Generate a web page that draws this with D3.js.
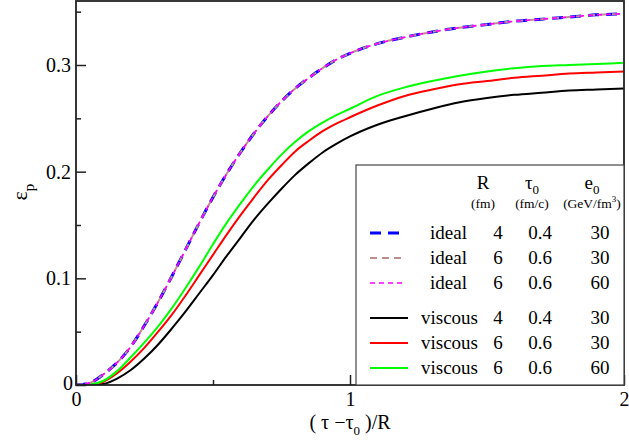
<!DOCTYPE html>
<html><head><meta charset="utf-8">
<script src="https://cdn.jsdelivr.net/npm/d3@7"></script>
<style>body{margin:0;background:#fff}svg{display:block}</style>
</head><body><svg id="c" width="629" height="442"></svg>
<script>
const xs = [0,.05,.1,.15,.2,.25,.3,.35,.4,.45,.5,.55,.6,.65,.7,.75,.8,.85,.9,.95,1.0,1.1,1.2,1.3,1.4,1.5,1.6,1.7,1.8,1.9,2.0];
const ideal = [0,.002,.010,.021,.036,.056,.078,.102,.127,.152,.176,.198,.218,.236,.252,.266,.278,.288,.297,.305,.311,.320,.326,.331,.335,.338,.341,.343,.345,.347,.348];
const viscR4 = [0,0,.001,.006,.014,.025,.038,.053,.069,.086,.103,.121,.138,.155,.170,.184,.197,.208,.218,.226,.233,.244,.252,.259,.265,.269,.272,.274,.276,.277,.278];
const viscR6e30 = [0,.0003,.003,.011,.022,.035,.050,.066,.084,.103,.122,.141,.159,.176,.192,.206,.219,.229,.238,.245,.251,.262,.271,.277,.282,.285,.288,.290,.292,.293,.294];
const viscR6e60 = [0,.0005,.004,.013,.026,.040,.055,.072,.091,.111,.132,.152,.170,.187,.202,.216,.228,.238,.246,.253,.259,.271,.279,.285,.290,.294,.297,.299,.300,.301,.302];
const xTicks = [0,1,2];
const yTicks = [0,0.1,0.2,0.3];
const legendRows = [
  {kind:"ideal", R:"4", tau:"0.4", e:"30"},
  {kind:"ideal", R:"6", tau:"0.6", e:"30"},
  {kind:"ideal", R:"6", tau:"0.6", e:"60"},
  {kind:"viscous", R:"4", tau:"0.4", e:"30"},
  {kind:"viscous", R:"6", tau:"0.6", e:"30"},
  {kind:"viscous", R:"6", tau:"0.6", e:"60"}
];
const series = [
  {y: ideal, color:"#0000ff", w:3, dash:"11,7"},
  {y: ideal, color:"#bc8f8f", w:2, dash:"7,5"},
  {y: ideal, color:"#ff00ff", w:1.6, dash:"5,4"},
  {y: viscR4, color:"#000000", w:2, dash:null},
  {y: viscR6e30, color:"#ff0000", w:2, dash:null},
  {y: viscR6e60, color:"#00ff00", w:2, dash:null}
];

const FONT = "'Liberation Serif', 'Times New Roman', 'DejaVu Serif', serif";

const svg = d3.select("#c").style("font-family",FONT);
const L=76, R=624, T=1, B=385;
const x = d3.scaleLinear().domain([0,2]).range([L,R]);
const y = d3.scaleLinear().domain([0,0.36]).range([B,T]);

svg.append("clipPath").attr("id","pc").append("rect").attr("x",L).attr("y",T).attr("width",R-L).attr("height",B-T);
const line = d3.line().x((d,i)=>x(xs[i])).y(d=>y(d)).curve(d3.curveMonotoneX);
const g = svg.append("g").attr("clip-path","url(#pc)");
[3,4,5,0,1,2].forEach(i=>{
  const s=series[i];
  g.append("path").datum(s.y).attr("d",line).attr("fill","none")
   .attr("stroke",s.color).attr("stroke-width",s.w)
   .attr("stroke-dasharray",s.dash);
});

const xAx = svg.append("g").attr("transform",`translate(0,${B})`)
  .call(d3.axisBottom(x).tickValues(xTicks).tickSize(-10).tickFormat(d3.format("d")));
const xMin = svg.append("g").attr("transform",`translate(0,${B})`)
  .call(d3.axisBottom(x).tickValues([0.5,1.5]).tickSize(-5).tickFormat(""));
const yAx = svg.append("g").attr("transform",`translate(${L},0)`)
  .call(d3.axisLeft(y).tickValues(yTicks).tickSize(-10).tickFormat(d=>d===0?"0":d3.format(".1f")(d)));
const yMin = svg.append("g").attr("transform",`translate(${L},0)`)
  .call(d3.axisLeft(y).tickValues([0.05,0.15,0.25,0.35]).tickSize(-5).tickFormat(""));
[xAx,xMin,yAx,yMin].forEach(a=>{a.attr("font-family",null).style("font-family",FONT);a.select(".domain").remove();a.selectAll("line").attr("stroke","#222").attr("stroke-width",1.5);});
xAx.selectAll("text").attr("font-size",20).attr("fill","#000").attr("y",7).attr("dy","0.71em");
yAx.selectAll("text").attr("font-size",20).attr("fill","#000").attr("x",-5).attr("dy","0.32em");
yAx.selectAll(".tick").filter(d=>d===0).select("text").attr("x",-3).attr("dy","0.2em");

svg.append("rect").attr("x",L).attr("y",T).attr("width",R-L).attr("height",B-T)
  .attr("fill","none").attr("stroke","#222").attr("stroke-width",1.8);

const xl = svg.append("text").attr("x",350).attr("y",429).attr("text-anchor","middle").attr("font-size",20);
xl.append("tspan").text("( τ −τ");
xl.append("tspan").attr("font-size",13).attr("dy",6).text("0");
xl.append("tspan").attr("dy",-6).text(" )/R");
const yl = svg.append("text").attr("transform","translate(27,192) rotate(-90)").attr("text-anchor","middle").attr("font-size",22);
yl.append("tspan").text("ε");
yl.append("tspan").attr("font-size",15).attr("dy",7).text("p");

const lg = svg.append("g");
lg.append("rect").attr("x",356).attr("y",165).attr("width",R-356).attr("height",B-165)
  .attr("fill","#fff").attr("stroke","#444").attr("stroke-width",1.2);
const hdr = (cx, main, sub, unit, unitSup) => {
  const t = lg.append("text").attr("x",cx).attr("y",189).attr("text-anchor","middle").attr("font-size",19);
  t.append("tspan").text(main);
  if(sub){t.append("tspan").attr("font-size",13).attr("dy",5).text(sub);}
  const u = lg.append("text").attr("x",cx).attr("y",208).attr("text-anchor","middle").attr("font-size",13.5);
  u.append("tspan").text(unit);
  if(unitSup){u.append("tspan").attr("font-size",9).attr("dy",-6).text(unitSup);u.append("tspan").attr("dy",6).text(")");}
};
hdr(483,"R",null,"(fm)");
hdr(532,"τ","0","(fm/c)");
hdr(592,"e","0","(GeV/fm","3");
const rowY = [233,258,283,318,343,368];
legendRows.forEach((r,i)=>{
  const s = series[i], cy=rowY[i];
  lg.append("line").attr("x1",370).attr("x2",i<3?404:408).attr("y1",cy).attr("y2",cy)
    .attr("stroke",s.color).attr("stroke-width",s.w).attr("stroke-dasharray",s.dash);
  const by = cy+6;
  lg.append("text").attr("x",i<3?467:478).attr("y",by).attr("text-anchor","end").attr("font-size",19).text(r.kind);
  lg.append("text").attr("x",498).attr("y",by).attr("text-anchor","middle").attr("font-size",19).text(r.R);
  lg.append("text").attr("x",540).attr("y",by).attr("text-anchor","middle").attr("font-size",19).text(r.tau);
  lg.append("text").attr("x",600).attr("y",by).attr("text-anchor","middle").attr("font-size",19).text(r.e);
});
</script></body></html>
